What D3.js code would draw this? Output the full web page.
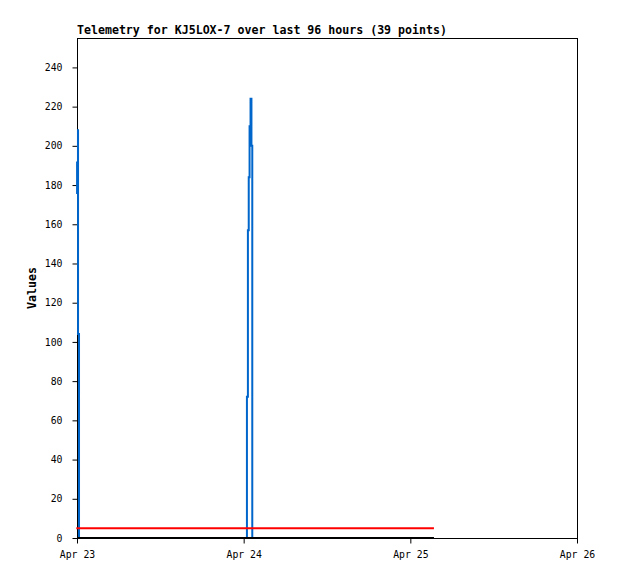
<!DOCTYPE html>
<html>
<head>
<meta charset="utf-8">
<script src="https://cdn.jsdelivr.net/npm/d3@7"></script>
<style>
  body { margin: 0; background: #fff; }
  svg { display: block; }
</style>
</head>
<body>
<div id="chart"></div>
<script>
// hours after Apr 23 00:00
const blueHours = [0.0, 0.01, 0.14, 0.15, 0.29, 6, 12, 18, 24.47, 24.61, 24.73, 24.85, 24.99, 25.12, 25.24, 32, 40, 51.4]
const blueValues = [192, 176, 208, 104, 0, 0, 0, 0, 72, 157, 184, 210, 224, 200, 0, 0, 0, 0]
const redHours = [-0.1, 51.4]
const redValues = [5, 5]
const blackHours = [0, 51.4]
const blackValues = [0, 0]
const yTicks = [0, 20, 40, 60, 80, 100, 120, 140, 160, 180, 200, 220, 240]
const xTicks = ['2024-04-23', '2024-04-24', '2024-04-25', '2024-04-26']
const title = 'Telemetry for KJ5LOX-7 over last 96 hours (39 points)'

const W = 618, H = 579
const m = { left: 77, top: 38, right: 41, bottom: 41 }
const base = new Date(2024, 3, 23)
const toDate = h => new Date(base.getTime() + h * 3600 * 1000)

const svg = d3.select('#chart').append('svg').attr('width', W).attr('height', H)

const x = d3.scaleTime()
  .domain([new Date(2024, 3, 23), new Date(2024, 3, 26)])
  .range([m.left, W - m.right])
const y = d3.scaleLinear().domain([0, 255]).range([H - m.bottom, m.top])

const mono = 'DejaVu Sans Mono, monospace'

// frame
svg.append('rect')
  .attr('x', m.left + 0.5).attr('y', m.top + 0.5)
  .attr('width', W - m.right - m.left).attr('height', H - m.bottom - m.top)
  .attr('fill', 'none').attr('stroke', '#000').attr('stroke-width', 1)

// y axis
const yAxis = d3.axisLeft(y).tickValues(yTicks).tickSize(5).tickPadding(10)
svg.append('g')
  .attr('transform', `translate(${m.left + 0.5},0)`)
  .call(yAxis)
  .call(g => g.select('.domain').remove())
  .call(g => g.selectAll('text').attr('font-family', mono).attr('font-size', '9.8px').attr('fill', '#000'))

// x axis
const xAxis = d3.axisBottom(x)
  .tickValues(xTicks.map(s => d3.timeParse('%Y-%m-%d')(s)))
  .tickFormat(d3.timeFormat('%b %d'))
  .tickSize(5).tickPadding(8)
svg.append('g')
  .attr('transform', `translate(0,${H - m.bottom + 0.5})`)
  .call(xAxis)
  .call(g => g.select('.domain').remove())
  .call(g => g.selectAll('text').attr('font-family', mono).attr('font-size', '9.8px').attr('fill', '#000'))

const line = d3.line().curve(d3.curveStepAfter).x(d => x(toDate(d[0]))).y(d => y(d[1]))

const series = [
  { hours: blueHours, values: blueValues, color: '#0066cc' },
  { hours: redHours, values: redValues, color: '#ff0000' },
  { hours: blackHours, values: blackValues, color: '#000000' }
]
series.forEach(s => {
  svg.append('path')
    .datum(s.hours.map((h, i) => [h, s.values[i]]))
    .attr('d', line)
    .attr('fill', 'none')
    .attr('stroke', s.color)
    .attr('stroke-width', 2)
})

// title
svg.append('text')
  .attr('x', m.left).attr('y', 34)
  .attr('font-family', mono).attr('font-size', '11.6px').attr('font-weight', 'bold')
  .text(title)

// y label
svg.append('text')
  .attr('transform', `translate(36,${(m.top + H - m.bottom) / 2}) rotate(-90)`)
  .attr('text-anchor', 'middle')
  .attr('font-family', mono).attr('font-size', '11.6px').attr('font-weight', 'bold')
  .text('Values')
</script>
</body>
</html>
